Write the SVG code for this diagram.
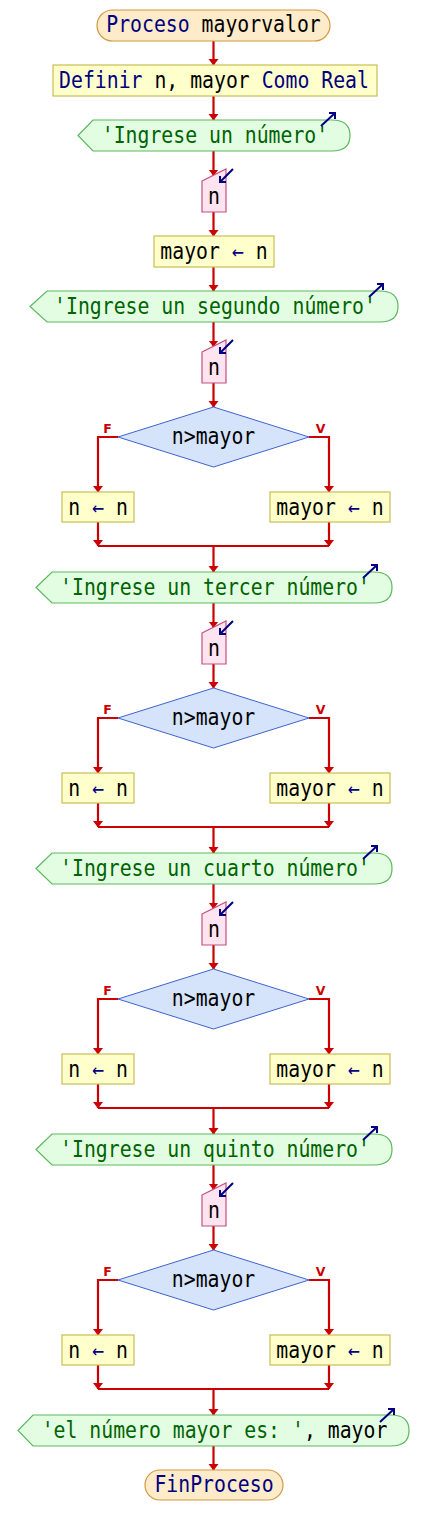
<svg xmlns="http://www.w3.org/2000/svg" width="428" height="1535" viewBox="0 0 428 1535">
<defs>
<marker id="ah" markerWidth="7" markerHeight="12" refX="6" refY="6" orient="auto" markerUnits="userSpaceOnUse" viewBox="0 0 7 12"><path d="M0,1 L6.5,6 L0,11 z" fill="#cc0000"/></marker>
<style>
text{font-family:"DejaVu Sans Mono","Liberation Mono",monospace;font-size:19.8px;text-anchor:middle}
.kw{fill:#000080}.id{fill:#000000}.str{fill:#006400}.op{fill:#000080}
.term{fill:#fdebc9;stroke:#d3993f;stroke-width:1.2}
.box{fill:#ffffcc;stroke:#c9bd55;stroke-width:1.2}
.out{fill:#e3fde3;stroke:#5cb85c;stroke-width:1.2}
.inp{fill:#fde4f0;stroke:#c2507e;stroke-width:1.2}
.dec{fill:#d5e3fb;stroke:#3f63cf;stroke-width:1}
.ico{fill:none;stroke:#000080;stroke-width:2}
.c{fill:none;stroke:#cc0000;stroke-width:2.2}
.ca{fill:none;stroke:#cc0000;stroke-width:2.2;marker-end:url(#ah)}
.fv{font-family:"DejaVu Sans","Liberation Sans",sans-serif;font-size:12.5px;font-weight:bold;fill:#cc0000}
</style>
</defs>
<g id="connectors">
<path class="ca" d="M213.5,41 V65"/>
<path class="ca" d="M213.5,96 V120"/>
<path class="ca" d="M213.5,151 V175.5"/>
<path class="ca" d="M213.5,212 V236"/>
<path class="ca" d="M213.5,267 V291"/>
<path class="ca" d="M213.5,322 V346.5"/>
<path class="ca" d="M213.5,383 V407"/>
<path class="ca" d="M118,437 H98 V492"/>
<path class="ca" d="M309,437 H329 V492"/>
<path class="ca" d="M98,522 V546"/>
<path class="ca" d="M329,522 V546"/>
<path class="c" d="M98,546 H329"/>
<path class="ca" d="M213.5,546 V572"/>
<path class="ca" d="M213.5,603 V627.5"/>
<path class="ca" d="M213.5,664 V688"/>
<path class="ca" d="M118,718 H98 V773"/>
<path class="ca" d="M309,718 H329 V773"/>
<path class="ca" d="M98,803 V827"/>
<path class="ca" d="M329,803 V827"/>
<path class="c" d="M98,827 H329"/>
<path class="ca" d="M213.5,827 V853"/>
<path class="ca" d="M213.5,884 V908.5"/>
<path class="ca" d="M213.5,945 V969"/>
<path class="ca" d="M118,999 H98 V1054"/>
<path class="ca" d="M309,999 H329 V1054"/>
<path class="ca" d="M98,1084 V1108"/>
<path class="ca" d="M329,1084 V1108"/>
<path class="c" d="M98,1108 H329"/>
<path class="ca" d="M213.5,1108 V1134"/>
<path class="ca" d="M213.5,1165 V1189.5"/>
<path class="ca" d="M213.5,1226 V1250"/>
<path class="ca" d="M118,1280 H98 V1335"/>
<path class="ca" d="M309,1280 H329 V1335"/>
<path class="ca" d="M98,1365 V1389"/>
<path class="ca" d="M329,1365 V1389"/>
<path class="c" d="M98,1389 H329"/>
<path class="ca" d="M213.5,1389 V1415"/>
<path class="ca" d="M213.5,1446 V1470"/>
<text class="fv" x="107.5" y="433">F</text><text class="fv" x="320.5" y="433">V</text>
<text class="fv" x="107.5" y="714">F</text><text class="fv" x="320.5" y="714">V</text>
<text class="fv" x="107.5" y="995">F</text><text class="fv" x="320.5" y="995">V</text>
<text class="fv" x="107.5" y="1276">F</text><text class="fv" x="320.5" y="1276">V</text>
</g>
<g id="start">
<rect class="term" x="97" y="10" width="233" height="31" rx="15.5"/>
<text transform="translate(213.5 32) scale(1 1.12)"><tspan class="kw">Proceso</tspan> <tspan class="id">mayorvalor</tspan></text>
</g>
<g id="definir">
<rect class="box" x="53" y="65" width="324" height="31"/>
<text transform="translate(214 87.5) scale(1 1.12)"><tspan class="kw">Definir</tspan> <tspan class="id">n, mayor</tspan> <tspan class="kw">Como Real</tspan></text>
</g>
<g id="escribir1">
<path class="out" d="M78,135.5 L93,120 H332 Q350,120 350,135.5 Q350,151 332,151 H93 Z"/>
<text class="str" transform="translate(215 142.5) scale(1 1.12)">'Ingrese un número'</text>
<path class="ico" d="M321,126 L335,113 M329,113 H335 V119"/>
</g>
<g id="leer1">
<polygon class="inp" points="202,181 226,169 226,212 202,212"/>
<text class="id" transform="translate(214 203.5) scale(1 1.12)">n</text>
<path class="ico" d="M233,169 L220,182 M220,176 V182 H226"/>
</g>
<g id="asig1">
<rect class="box" x="154" y="236" width="120" height="31"/>
<text transform="translate(214 258.5) scale(1 1.12)"><tspan class="id">mayor</tspan> <tspan class="op">←</tspan> <tspan class="id">n</tspan></text>
</g>
<g id="escribir2">
<path class="out" d="M30,306.5 L47,291 H380 Q398,291 398,306.5 Q398,322 380,322 H47 Z"/>
<text class="str" transform="translate(215 313.5) scale(1 1.12)">'Ingrese un segundo número'</text>
<path class="ico" d="M369,297 L383,284 M377,284 H383 V290"/>
</g>
<g id="leer2">
<polygon class="inp" points="202,352 226,340 226,383 202,383"/>
<text class="id" transform="translate(214 374.5) scale(1 1.12)">n</text>
<path class="ico" d="M233,340 L220,353 M220,347 V353 H226"/>
</g>
<g id="si1">
<polygon class="dec" points="213.5,407 309,437 213.5,467 118,437"/>
<text class="id" transform="translate(213.5 444) scale(1 1.12)">n&gt;mayor</text>
</g>
<g id="sinof1">
<rect class="box" x="62" y="492" width="72" height="30"/>
<text transform="translate(98 514.5) scale(1 1.12)"><tspan class="id">n</tspan> <tspan class="op">←</tspan> <tspan class="id">n</tspan></text>
</g>
<g id="siv1">
<rect class="box" x="270" y="492" width="120" height="30"/>
<text transform="translate(330 514.5) scale(1 1.12)"><tspan class="id">mayor</tspan> <tspan class="op">←</tspan> <tspan class="id">n</tspan></text>
</g>
<g id="escribir3">
<path class="out" d="M36,587.5 L52,572 H374 Q392,572 392,587.5 Q392,603 374,603 H52 Z"/>
<text class="str" transform="translate(215 594.5) scale(1 1.12)">'Ingrese un tercer número'</text>
<path class="ico" d="M363,578 L377,565 M371,565 H377 V571"/>
</g>
<g id="leer3">
<polygon class="inp" points="202,633 226,621 226,664 202,664"/>
<text class="id" transform="translate(214 655.5) scale(1 1.12)">n</text>
<path class="ico" d="M233,621 L220,634 M220,628 V634 H226"/>
</g>
<g id="si2">
<polygon class="dec" points="213.5,688 309,718 213.5,748 118,718"/>
<text class="id" transform="translate(213.5 725) scale(1 1.12)">n&gt;mayor</text>
</g>
<g id="sinof2">
<rect class="box" x="62" y="773" width="72" height="30"/>
<text transform="translate(98 795.5) scale(1 1.12)"><tspan class="id">n</tspan> <tspan class="op">←</tspan> <tspan class="id">n</tspan></text>
</g>
<g id="siv2">
<rect class="box" x="270" y="773" width="120" height="30"/>
<text transform="translate(330 795.5) scale(1 1.12)"><tspan class="id">mayor</tspan> <tspan class="op">←</tspan> <tspan class="id">n</tspan></text>
</g>
<g id="escribir4">
<path class="out" d="M36,868.5 L52,853 H374 Q392,853 392,868.5 Q392,884 374,884 H52 Z"/>
<text class="str" transform="translate(215 875.5) scale(1 1.12)">'Ingrese un cuarto número'</text>
<path class="ico" d="M363,859 L377,846 M371,846 H377 V852"/>
</g>
<g id="leer4">
<polygon class="inp" points="202,914 226,902 226,945 202,945"/>
<text class="id" transform="translate(214 936.5) scale(1 1.12)">n</text>
<path class="ico" d="M233,902 L220,915 M220,909 V915 H226"/>
</g>
<g id="si3">
<polygon class="dec" points="213.5,969 309,999 213.5,1029 118,999"/>
<text class="id" transform="translate(213.5 1006) scale(1 1.12)">n&gt;mayor</text>
</g>
<g id="sinof3">
<rect class="box" x="62" y="1054" width="72" height="30"/>
<text transform="translate(98 1076.5) scale(1 1.12)"><tspan class="id">n</tspan> <tspan class="op">←</tspan> <tspan class="id">n</tspan></text>
</g>
<g id="siv3">
<rect class="box" x="270" y="1054" width="120" height="30"/>
<text transform="translate(330 1076.5) scale(1 1.12)"><tspan class="id">mayor</tspan> <tspan class="op">←</tspan> <tspan class="id">n</tspan></text>
</g>
<g id="escribir5">
<path class="out" d="M36,1149.5 L52,1134 H374 Q392,1134 392,1149.5 Q392,1165 374,1165 H52 Z"/>
<text class="str" transform="translate(215 1156.5) scale(1 1.12)">'Ingrese un quinto número'</text>
<path class="ico" d="M363,1140 L377,1127 M371,1127 H377 V1133"/>
</g>
<g id="leer5">
<polygon class="inp" points="202,1195 226,1183 226,1226 202,1226"/>
<text class="id" transform="translate(214 1217.5) scale(1 1.12)">n</text>
<path class="ico" d="M233,1183 L220,1196 M220,1190 V1196 H226"/>
</g>
<g id="si4">
<polygon class="dec" points="213.5,1250 309,1280 213.5,1310 118,1280"/>
<text class="id" transform="translate(213.5 1287) scale(1 1.12)">n&gt;mayor</text>
</g>
<g id="sinof4">
<rect class="box" x="62" y="1335" width="72" height="30"/>
<text transform="translate(98 1357.5) scale(1 1.12)"><tspan class="id">n</tspan> <tspan class="op">←</tspan> <tspan class="id">n</tspan></text>
</g>
<g id="siv4">
<rect class="box" x="270" y="1335" width="120" height="30"/>
<text transform="translate(330 1357.5) scale(1 1.12)"><tspan class="id">mayor</tspan> <tspan class="op">←</tspan> <tspan class="id">n</tspan></text>
</g>
<g id="escribir6">
<path class="out" d="M18,1430.5 L33,1415 H391 Q409,1415 409,1430.5 Q409,1446 391,1446 H33 Z"/>
<text transform="translate(214.5 1437.5) scale(1 1.12)"><tspan class="str">'el número mayor es: '</tspan><tspan class="id">, mayor</tspan></text>
<path class="ico" d="M380,1422 L394,1409 M388,1409 H394 V1415"/>
</g>
<g id="fin">
<rect class="term" x="145" y="1470" width="138" height="30" rx="15"/>
<text class="kw" transform="translate(214 1492) scale(1 1.12)">FinProceso</text>
</g>
</svg>
